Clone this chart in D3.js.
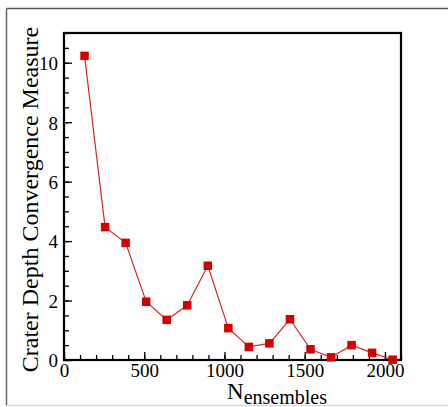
<!DOCTYPE html>
<html>
<head>
<meta charset="utf-8">
<script src="https://cdn.jsdelivr.net/npm/d3@7/dist/d3.min.js"></script>
<style>
  body { margin: 0; background: #fff; }
  svg { display: block; }
</style>
</head>
<body>
<svg id="chart" width="448" height="407"></svg>
<script>
// --- data ---
const ensembles = [128, 256, 384, 512, 640, 768, 896, 1024, 1152, 1280, 1408, 1536, 1664, 1792, 1920, 2048];
const measure = [10.23, 4.47, 3.94, 1.96, 1.35, 1.84, 3.17, 1.07, 0.44, 0.56, 1.37, 0.36, 0.09, 0.50, 0.24, 0.01];
const xTicks = [0, 500, 1000, 1500, 2000];
const yTicks = [0, 2, 4, 6, 8, 10];

const points = ensembles.map((n, i) => ({ n: n, v: measure[i] }));

const svg = d3.select("#chart"),
    margin = { top: 33, right: 47, bottom: 47, left: 64 },
    width = +svg.attr("width") - margin.left - margin.right,
    height = +svg.attr("height") - margin.top - margin.bottom;

const serif = "'Liberation Serif', 'Times New Roman', serif";

// outer frame
svg.append("line").attr("x1", 6.5).attr("y1", 8.5).attr("x2", 448).attr("y2", 8.5)
    .attr("stroke", "#555").attr("stroke-width", 1.5);
svg.append("line").attr("x1", 6.5).attr("y1", 8.5).attr("x2", 6.5).attr("y2", 405.5)
    .attr("stroke", "#666").attr("stroke-width", 1.5);
svg.append("line").attr("x1", 6.5).attr("y1", 405.5).attr("x2", 448).attr("y2", 405.5)
    .attr("stroke", "#ddd").attr("stroke-width", 1.5);

const g = svg.append("g")
    .attr("transform", `translate(${margin.left},${margin.top})`);

const x = d3.scaleLinear()
    .domain([0, 2100])
    .range([0, width]);

const y = d3.scaleLinear()
    .domain([0, 11])
    .range([height, 0]);

// minor ticks (inward)
g.append("g")
    .attr("transform", `translate(0,${height})`)
    .call(d3.axisBottom(x).tickValues(d3.range(0, 2101, 100)).tickSize(-5).tickFormat(""))
    .call(a => a.select(".domain").remove());

g.append("g")
    .call(d3.axisLeft(y).tickValues(d3.range(0, 11.01, 0.5)).tickSize(-5).tickFormat(""))
    .call(a => a.select(".domain").remove());

// major ticks with labels
const xAxis = g.append("g")
    .attr("transform", `translate(0,${height})`)
    .call(d3.axisBottom(x).tickValues(xTicks).tickSize(-8).tickPadding(3).tickFormat(d3.format("d")));
xAxis.select(".domain").remove();

const yAxis = g.append("g")
    .call(d3.axisLeft(y).tickValues(yTicks).tickSize(-8).tickPadding(6).tickFormat(d3.format("d")));
yAxis.select(".domain").remove();

[xAxis, yAxis].forEach(a => a
    .attr("font-family", serif)
    .attr("font-size", 19));

g.selectAll(".tick line").attr("stroke", "#000").attr("stroke-width", 1.3);
g.selectAll(".tick text")
    .style("font-family", serif)
    .style("font-size", "19px")
    .attr("fill", "#000");
yAxis.selectAll(".tick text").attr("dy", "0.36em");

// plot frame
g.append("rect")
    .attr("x", 0).attr("y", 0)
    .attr("width", width).attr("height", height)
    .attr("fill", "none")
    .attr("stroke", "#000")
    .attr("stroke-width", 2.2);

// series
const line = d3.line()
    .x(d => x(d.n))
    .y(d => y(d.v));

g.append("path")
    .datum(points)
    .attr("fill", "none")
    .attr("stroke", "#d82828")
    .attr("stroke-width", 1.2)
    .attr("d", line);

const s = 8.5;
g.selectAll(".marker")
    .data(points)
    .enter()
    .append("rect")
    .attr("class", "marker")
    .attr("x", d => x(d.n) - s / 2)
    .attr("y", d => y(d.v) - s / 2)
    .attr("width", s)
    .attr("height", s)
    .attr("fill", "#d40000");

// axis titles
svg.append("text")
    .attr("transform", `translate(38,${margin.top + height / 2 + 3}) rotate(-90)`)
    .attr("text-anchor", "middle")
    .style("font-family", serif)
    .style("font-size", "24px")
    .attr("fill", "#000")
    .text("Crater Depth Convergence Measure");

const xt = svg.append("text")
    .attr("x", 277)
    .attr("y", 399)
    .attr("text-anchor", "middle")
    .style("font-family", serif)
    .attr("fill", "#000");
xt.append("tspan").style("font-size", "23px").text("N");
xt.append("tspan").style("font-size", "20px").attr("dy", 5).text("ensembles");
</script>
</body>
</html>
